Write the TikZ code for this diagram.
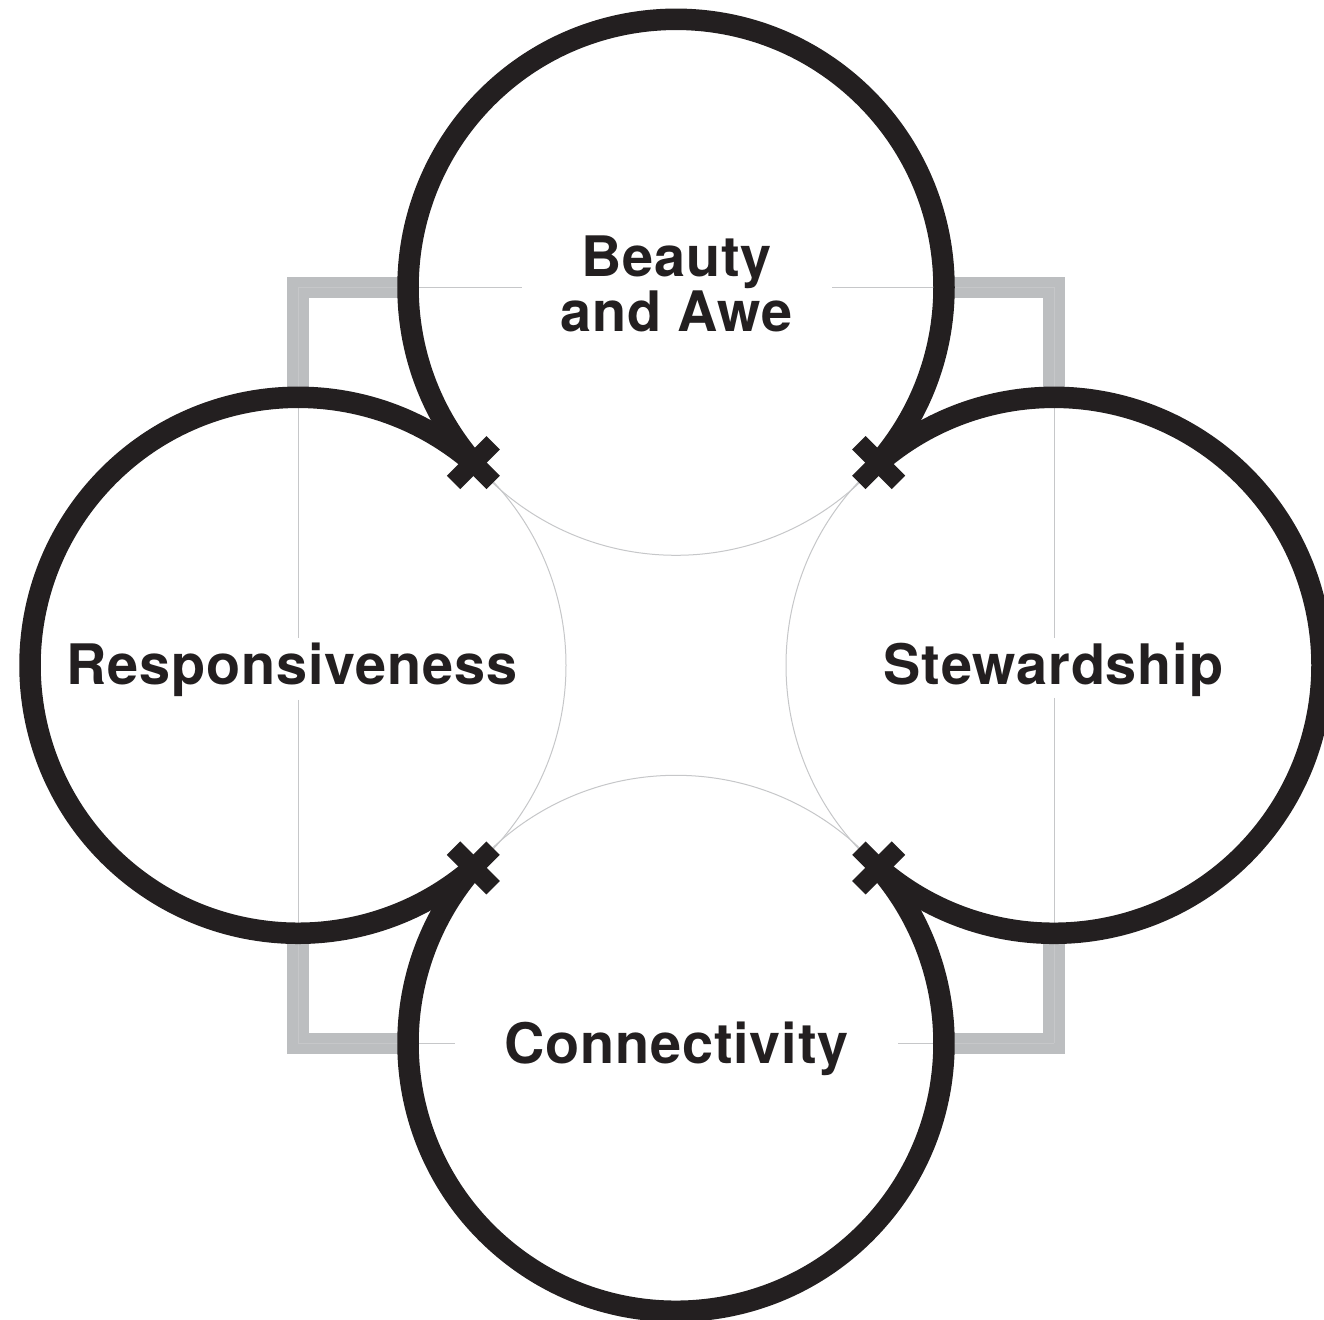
\documentclass[tikz,border=0pt]{standalone}
\usepackage{fontspec}
\setmainfont{TeX Gyre Heros}
\newfontfamily\labelfont{TeX Gyre Heros}[LetterSpace=1.5]
\usetikzlibrary{calc}
\definecolor{ink}{HTML}{231F20}
\definecolor{steel}{HTML}{BCBEC0}
\definecolor{hair}{HTML}{C6C7C9}
\begin{document}
\begin{tikzpicture}[x=0.5pt,y=0.5pt,
  frame/.style={draw=steel, line width=10.75pt},
  hairline/.style={draw=hair, line width=0.5pt},
  ring/.style={draw=ink, line width=10.75pt},
  crossbar/.style={draw=ink, line width=9.5pt},
  bigtext/.style={font=\labelfont\fontsize{27.9}{27.5}\selectfont\bfseries, text=ink, inner sep=0pt}]
\useasboundingbox (0,0) rectangle (1324,1319);
\coordinate (T) at (676,1031.7);
\coordinate (L) at (298,653.7);
\coordinate (R) at (1054,653.7);
\coordinate (B) at (676,275.7);
% grey frame
\draw[frame] (298,1031.7) rectangle (1054,275.7);
% white discs
\foreach \c in {T,L,R,B} \fill[white] (\c) circle[radius=134pt];
% thin frame lines inside the discs
\draw[hairline] (298,1031.7) -- (522,1031.7);
\draw[hairline] (832,1031.7) -- (1054,1031.7);
\draw[hairline] (298,275.7) -- (455,275.7);
\draw[hairline] (898,275.7) -- (1054,275.7);
\draw[hairline] (298,1031.7) -- (298,681);
\draw[hairline] (298,619) -- (298,275.7);
\draw[hairline] (1054,1031.7) -- (1054,681);
\draw[hairline] (1054,621) -- (1054,275.7);
% thin full circles
\foreach \c in {T,L,R,B} \draw[hairline] (\c) circle[radius=134pt];
% thick outer arcs
\draw[ring] ($(T)+(-40.86:134pt)$) arc[start angle=-40.86, end angle=220.86, radius=134pt];
\draw[ring] ($(L)+(49.14:134pt)$) arc[start angle=49.14, end angle=310.86, radius=134pt];
\draw[ring] ($(B)+(139.14:134pt)$) arc[start angle=139.14, end angle=400.86, radius=134pt];
\draw[ring] ($(R)+(-130.86:134pt)$) arc[start angle=-130.86, end angle=130.86, radius=134pt];
% crosses
\coordinate (xtl) at ($(T)+(220.86:134pt)$);
\coordinate (xtr) at ($(T)+(-40.86:134pt)$);
\coordinate (xbl) at ($(B)+(139.14:134pt)$);
\coordinate (xbr) at ($(B)+(40.86:134pt)$);
\foreach \p in {xtl,xtr,xbl,xbr} {
  \draw[crossbar] ($(\p)+(-19.8,-19.8)$) -- ($(\p)+(19.8,19.8)$);
  \draw[crossbar] ($(\p)+(-19.8,19.8)$) -- ($(\p)+(19.8,-19.8)$);
}
% labels
\node[bigtext, anchor=north, align=center] (beauty) at (676.5,1084) {Beauty\\and Awe};
\node[bigtext, anchor=base] (resp) at (292,634) {Responsiveness};
\node[bigtext, anchor=base] (stew) at (1053.5,634) {Stewardship};
\node[bigtext, anchor=base] (conn) at (676.5,256) {Connectivity};
\end{tikzpicture}
\end{document}
